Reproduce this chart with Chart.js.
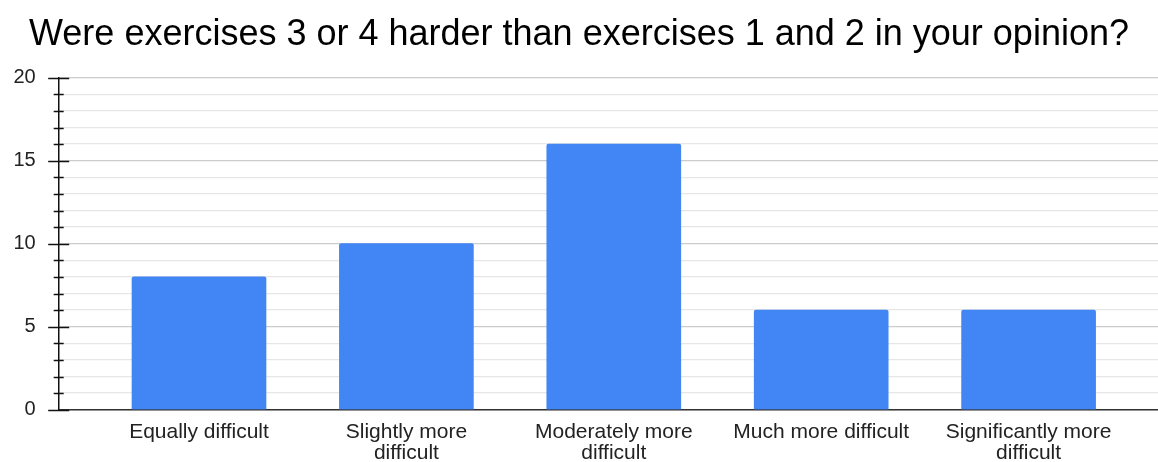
<!DOCTYPE html>
<html>
<head>
<meta charset="utf-8">
<script src="https://cdn.jsdelivr.net/npm/chart.js@4/dist/chart.umd.min.js"></script>
<style>
  html, body { margin: 0; padding: 0; background: #fff; }
  #wrap { width: 1158px; height: 462px; position: relative; }
</style>
</head>
<body>
<div id="wrap"><canvas id="chart"></canvas></div>
<script>
const titleText = 'Were exercises 3 or 4 harder than exercises 1 and 2 in your opinion?';
const categories = [
  ['Equally difficult'],
  ['Slightly more', 'difficult'],
  ['Moderately more', 'difficult'],
  ['Much more difficult'],
  ['Significantly more', 'difficult']
];
const counts = [8, 10, 16, 6, 6];
const yMin = 0;
const yMax = 20;
const yLabelStep = 5;

const FONT = '"Liberation Sans", Arial, Helvetica, sans-serif';

// cross-shaped tick marks on the y axis (long on labelled values)
const axisTicks = {
  id: 'axisTicks',
  afterDraw(chart) {
    const y = chart.scales.y;
    const ctx = chart.ctx;
    const x = y.right;
    ctx.save();
    ctx.strokeStyle = '#111';
    ctx.lineWidth = 1.5;
    for (let v = yMin; v <= yMax; v++) {
      const py = Math.round(y.getPixelForValue(v)) + 0.5;
      const len = v % yLabelStep === 0 ? 10.5 : 5;
      ctx.beginPath();
      ctx.moveTo(x - len, py);
      ctx.lineTo(x + len, py);
      ctx.stroke();
    }
    ctx.restore();
  }
};

const ctx = document.getElementById('chart').getContext('2d');
new Chart(ctx, {
  type: 'bar',
  data: {
    datasets: [{
      label: 'Count',
      data: counts.map((c, i) => ({ x: i, y: c })),
      backgroundColor: '#4285F4',
      borderWidth: 0,
      borderRadius: { topLeft: 2, topRight: 2, bottomLeft: 0, bottomRight: 0 },
      borderSkipped: 'start',
      barThickness: 134
    }]
  },
  plugins: [axisTicks],
  options: {
    responsive: true,
    maintainAspectRatio: false,
    animation: false,
    layout: { padding: { left: 0, right: 0, top: 0, bottom: 0 } },
    plugins: {
      legend: { display: false },
      tooltip: { enabled: false },
      title: {
        display: true,
        text: titleText,
        color: '#000',
        font: { family: FONT, size: 36, weight: 'normal' },
        padding: { top: 13, bottom: 21.5 }
      }
    },
    scales: {
      x: {
        type: 'linear',
        min: -0.6765,
        max: 4.624,
        offset: false,
        afterBuildTicks: s => { s.ticks = categories.map((c, i) => ({ value: i })); },
        afterFit: s => { s.height = 52.3; },
        grid: { display: false, drawTicks: false, offset: false },
        border: { display: true, color: '#333', width: 1.5 },
        ticks: {
          autoSkip: false,
          maxRotation: 0,
          padding: 12,
          color: '#222',
          font: { family: FONT, size: 21, lineHeight: 1.0 },
          callback: v => categories[v]
        }
      },
      y: {
        min: yMin,
        max: yMax,
        afterFit: s => { s.width = 58.7; },
        grid: {
          drawTicks: false,
          color: c => (c.tick && c.tick.value % yLabelStep === 0) ? '#cccccc' : '#e6e6e6',
          lineWidth: 1.2
        },
        border: { display: true, color: '#111', width: 1.5 },
        ticks: {
          stepSize: 1,
          autoSkip: false,
          padding: 23,
          color: '#222',
          font: { family: FONT, size: 20 },
          callback: v => v % yLabelStep === 0 ? v : ''
        }
      }
    }
  }
});
</script>
</body>
</html>
